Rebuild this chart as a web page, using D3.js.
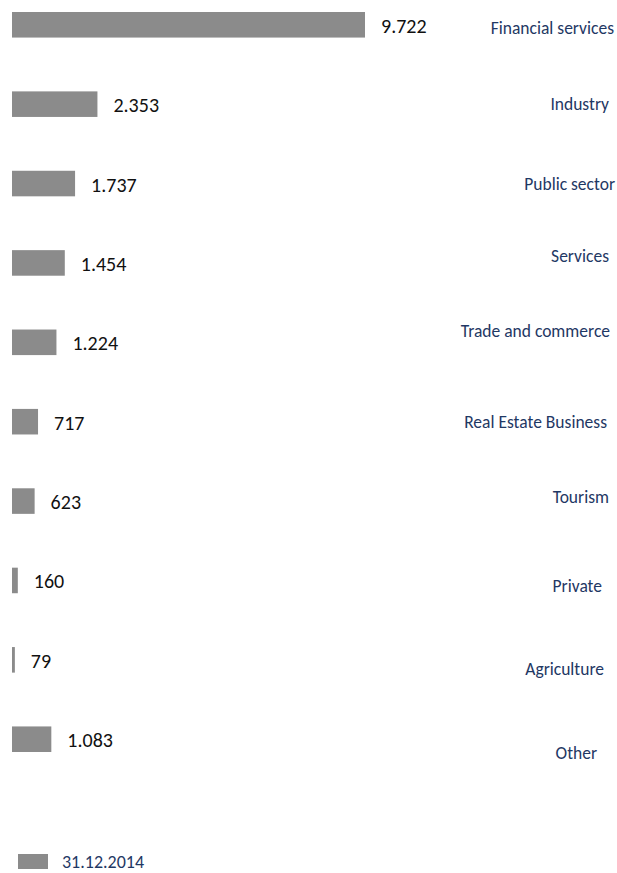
<!DOCTYPE html>
<html>
<head>
<meta charset="utf-8">
<script src="https://cdn.jsdelivr.net/npm/d3@7"></script>
<style>
  html, body { margin: 0; padding: 0; background: #fff; }
  svg { display: block; font-family: Carlito, Calibri, Lato, sans-serif; }
</style>
</head>
<body>
<svg id="chart" width="617" height="873"></svg>
<script>
// Loans by sector, 31.12.2014
const sectors = ["Financial services", "Industry", "Public sector", "Services", "Trade and commerce",
                 "Real Estate Business", "Tourism", "Private", "Agriculture", "Other"];
const amounts = [9722, 2353, 1737, 1454, 1224, 717, 623, 160, 79, 1083];
const valueLabels = ["9.722", "2.353", "1.737", "1.454", "1.224", "717", "623", "160", "79", "1.083"];
const seriesName = "31.12.2014";

// Sector captions sit in free-floating text boxes on the right: [right edge, vertical shift]
const captionBoxes = [[614, 3], [609, 0], [615, 0], [609, -7], [610, -11],
                      [607, 0], [609, -4], [602, 6], [604, 9], [597, 14]];

const barColor = "#8b8b8b";
const navy = "#1f3864";

const svg = d3.select("#chart");
const rows = sectors.map((s, i) => ({ sector: s, value: amounts[i], label: valueLabels[i], box: captionBoxes[i] }));

const x = d3.scaleLinear().domain([0, 9722]).range([12, 365]);
const y = d3.scaleBand().domain(sectors).range([12, 752]).paddingInner(0.678).paddingOuter(0).align(0);

const g = svg.append("g");

g.selectAll("rect.bar").data(rows).join("rect")
  .attr("class", "bar")
  .attr("x", x(0))
  .attr("y", d => y(d.sector))
  .attr("width", d => x(d.value) - x(0))
  .attr("height", y.bandwidth())
  .attr("fill", barColor);

g.selectAll("text.val").data(rows).join("text")
  .attr("class", "val")
  .attr("x", d => x(d.value) + 16)
  .attr("y", d => y(d.sector) + y.bandwidth() / 2 + 1)
  .attr("dominant-baseline", "central")
  .attr("font-size", 20)
  .attr("fill", "#111")
  .text(d => d.label);

g.selectAll("text.cat").data(rows).join("text")
  .attr("class", "cat")
  .attr("x", d => d.box[0])
  .attr("y", d => y(d.sector) + y.bandwidth() / 2 + d.box[1])
  .attr("dominant-baseline", "central")
  .attr("text-anchor", "end")
  .attr("font-size", 17.5)
  .attr("fill", navy)
  .text(d => d.sector);

// Legend
const legend = svg.append("g").attr("transform", "translate(18,854)");
legend.append("rect").attr("width", 30).attr("height", 15).attr("fill", barColor);
legend.append("text")
  .attr("x", 44).attr("y", 8)
  .attr("dominant-baseline", "central")
  .attr("font-size", 18)
  .attr("fill", navy)
  .text(seriesName);
</script>
</body>
</html>
